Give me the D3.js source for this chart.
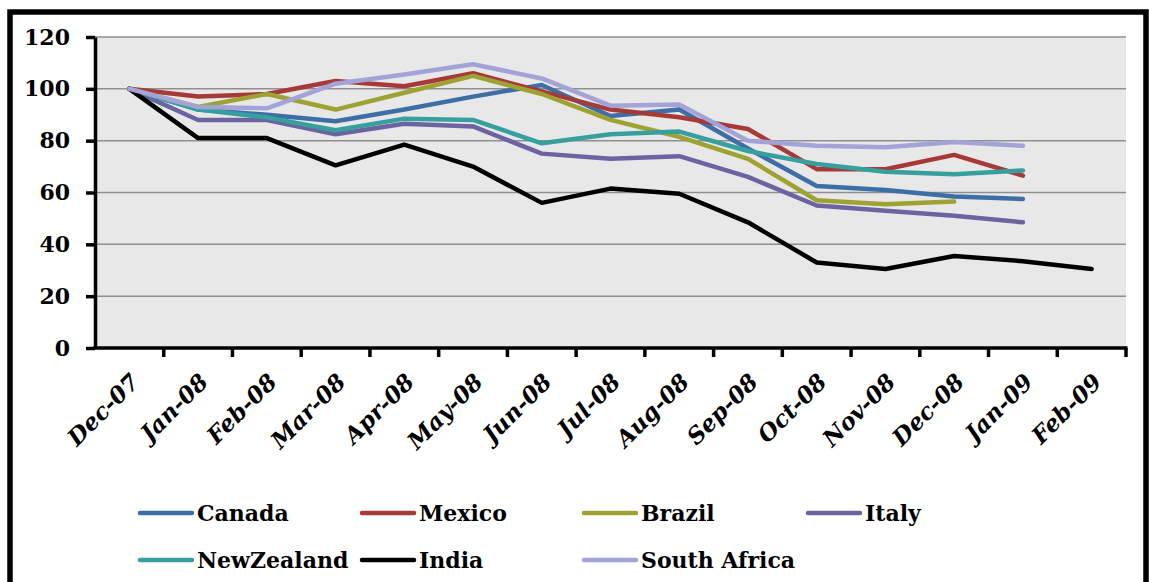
<!DOCTYPE html>
<html>
<head>
<meta charset="utf-8">
<script src="https://cdn.jsdelivr.net/npm/d3@7"></script>
<style>
  html, body { margin: 0; padding: 0; background: #fff; }
  svg { display: block; }
</style>
</head>
<body>
<div id="chart"></div>
<script>
// Monthly index values (Dec-07 = 100)
const months = ["Dec-07","Jan-08","Feb-08","Mar-08","Apr-08","May-08","Jun-08","Jul-08","Aug-08","Sep-08","Oct-08","Nov-08","Dec-08","Jan-09","Feb-09"];
const yTicks = [0, 20, 40, 60, 80, 100, 120];

const canada      = [100, 92, 90, 87.5, 92, 97, 101.5, 89.5, 92, 77, 62.5, 61, 58.5, 57.5];
const mexico      = [100, 97, 98, 103, 101, 106, 99, 92, 89, 84.5, 69, 69, 74.5, 66.5];
const brazil      = [100, 93, 98, 92, 98.5, 105, 98, 88, 81.5, 73, 57, 55.5, 56.5];
const italy       = [100, 88, 88, 82.5, 86.5, 85.5, 75, 73, 74, 66, 55, 53, 51, 48.5];
const newZealand  = [100, 92, 89, 84, 88.5, 88, 79, 82.5, 83.5, 76, 71, 68, 67, 68.5];
const india       = [100, 81, 81, 70.5, 78.5, 70, 56, 61.5, 59.5, 48.5, 33, 30.5, 35.5, 33.5, 30.5];
const southAfrica = [100, 93, 92.5, 102, 105.5, 109.5, 104, 93.5, 94, 80, 78, 77.5, 79.5, 78];

const seriesNames  = ["Canada", "Mexico", "Brazil", "Italy", "NewZealand", "India", "South Africa"];
const seriesValues = [canada, mexico, brazil, italy, newZealand, india, southAfrica];
const seriesColors = ["#3d6fa6", "#a63a38", "#9ea232", "#6c64a0", "#35a09e", "#000000", "#a3a3d8"];

const W = 1149, H = 582;
const plot = { left: 95, right: 1126, top: 37, bottom: 348 };
const serif = "'DejaVu Serif', serif";

const svg = d3.select("#chart").append("svg")
  .attr("width", W).attr("height", H);

// outer frame
svg.append("rect")
  .attr("x", 10).attr("y", 12)
  .attr("width", 1136).attr("height", 700)
  .attr("fill", "#fff").attr("stroke", "#000").attr("stroke-width", 5.5);

const x = d3.scaleBand().domain(months).range([plot.left, plot.right]).padding(0);
const y = d3.scaleLinear().domain([0, 120]).range([plot.bottom, plot.top]);
const cx = m => x(m) + x.bandwidth() / 2;

// plot background
svg.append("rect")
  .attr("x", plot.left).attr("y", plot.top)
  .attr("width", plot.right - plot.left).attr("height", plot.bottom - plot.top)
  .attr("fill", "#e8e8e8");

// horizontal gridlines
svg.append("g").selectAll("line")
  .data(yTicks.filter(t => t > 0))
  .join("line")
  .attr("x1", plot.left).attr("x2", plot.right)
  .attr("y1", d => y(d)).attr("y2", d => y(d))
  .attr("stroke", "#8f8f8f").attr("stroke-width", 1.5);

// series lines
const line = d3.line()
  .x((d, i) => cx(months[i]))
  .y(d => y(d));

svg.append("g").selectAll("path")
  .data(seriesValues)
  .join("path")
  .attr("d", d => line(d))
  .attr("fill", "none")
  .attr("stroke", (d, i) => seriesColors[i])
  .attr("stroke-width", 4.5)
  .attr("stroke-linejoin", "round")
  .attr("stroke-linecap", "round");

// y axis
const yAxis = svg.append("g")
  .attr("transform", `translate(${plot.left},0)`)
  .call(d3.axisLeft(y).tickValues(yTicks).tickSize(9).tickPadding(16).tickSizeOuter(0));
yAxis.select(".domain").attr("stroke", "#000").attr("stroke-width", 3.5);
yAxis.selectAll(".tick line").attr("stroke", "#000").attr("stroke-width", 3.5);
yAxis.selectAll(".tick text")
  .attr("font-family", serif).attr("font-weight", "bold")
  .attr("font-size", 22).attr("fill", "#000");

// x axis: ticks on category boundaries, labels at category centres
const xAxis = svg.append("g");
xAxis.append("line")
  .attr("x1", plot.left - 1.75).attr("x2", plot.right + 1.5)
  .attr("y1", plot.bottom).attr("y2", plot.bottom)
  .attr("stroke", "#000").attr("stroke-width", 3.5);
const bounds = months.map(m => x(m)).concat([plot.right]).slice(1);
xAxis.selectAll("line.tick")
  .data(bounds)
  .join("line")
  .attr("class", "tick")
  .attr("x1", d => d).attr("x2", d => d)
  .attr("y1", plot.bottom).attr("y2", plot.bottom + 9)
  .attr("stroke", "#000").attr("stroke-width", 3.5);
xAxis.selectAll("text")
  .data(months)
  .join("text")
  .attr("transform", d => `translate(${cx(d)},${plot.bottom + 24}) rotate(-45)`)
  .attr("text-anchor", "end")
  .attr("dy", "0.7em")
  .attr("font-family", serif).attr("font-weight", "bold").attr("font-style", "italic")
  .attr("font-size", 23).attr("fill", "#000")
  .text(d => d);

// legend
const legendPos = [
  [140, 513], [362, 513], [584, 513], [808, 513],
  [140, 560], [362, 560], [584, 560]
];
const legend = svg.append("g").selectAll("g")
  .data(seriesNames)
  .join("g")
  .attr("transform", (d, i) => `translate(${legendPos[i][0]},${legendPos[i][1]})`);
legend.append("line")
  .attr("x1", 0).attr("x2", 52).attr("y1", 0).attr("y2", 0)
  .attr("stroke", (d, i) => seriesColors[i])
  .attr("stroke-width", 4.5).attr("stroke-linecap", "round");
legend.append("text")
  .attr("x", 57).attr("y", 0).attr("dy", "0.36em")
  .attr("font-family", serif).attr("font-weight", "bold")
  .attr("font-size", 22).attr("fill", "#000")
  .text(d => d);
</script>
</body>
</html>
